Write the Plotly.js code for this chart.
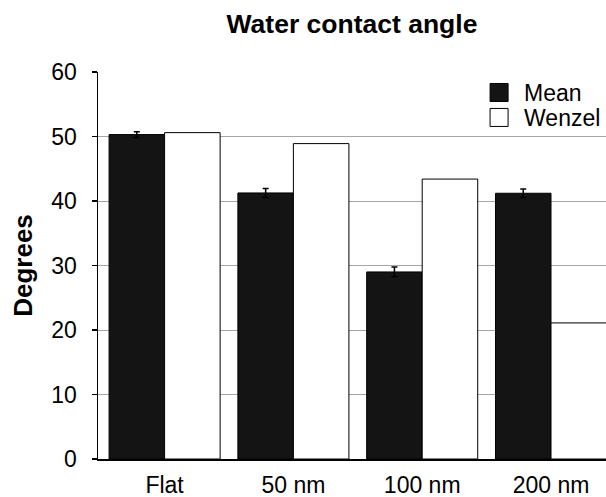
<!DOCTYPE html>
<html><head><meta charset="utf-8">
<script src="https://cdn.plot.ly/plotly-3.0.1.min.js"></script>
<style>html,body{margin:0;padding:0;background:#fff;overflow:hidden;width:606px;height:497px}#chart{display:block}</style>
</head><body><div id="chart" style="width:606px;height:497px"></div><script>
const categories = ['Flat', '50 nm', '100 nm', '200 nm'];
const meanValues = [50.3, 41.25, 29.0, 41.2];
const meanErrors = [0.45, 0.7, 0.75, 0.65];
const wenzelValues = [50.6, 48.9, 43.4, 21.1];
const yTickValues = [0, 10, 20, 30, 40, 50, 60];
const seriesNames = ['Mean', 'Wenzel'];

const FONT = 'Liberation Sans, Arial, sans-serif';

const traces = [
  {
    type: 'bar', name: seriesNames[0], x: categories, y: meanValues, legend: 'legend',
    marker: {color: '#141414', line: {color: '#000', width: 1}},
    error_y: {type: 'data', array: meanErrors, visible: true, color: '#000', thickness: 1.5, width: 3}
  },
  {
    type: 'bar', name: seriesNames[1], x: categories, y: wenzelValues, legend: 'legend2',
    marker: {color: '#ffffff', line: {color: '#000', width: 1}}
  }
];

const legendFont = {family: FONT, size: 23, color: '#000'};
const layout = {
  width: 606, height: 497, autosize: false,
  margin: {l: 98, r: 0, t: 72, b: 37.5, pad: 0, autoexpand: false},
  paper_bgcolor: '#fff', plot_bgcolor: '#fff',
  font: {family: FONT, color: '#000', size: 23},
  barmode: 'group', bargap: 0.138, bargroupgap: 0,
  title: {text: '<b>Water contact angle</b>', font: {family: FONT, size: 26.5, color: '#000'},
          x: 0.5, xref: 'paper', y: 0.952, yref: 'container', yanchor: 'middle'},
  xaxis: {
    type: 'category', range: [-0.517, 3.427], showline: true, linecolor: '#000', linewidth: 1.5,
    ticks: '', showgrid: false, zeroline: false, ticklabelstandoff: 5, automargin: false,
    tickfont: {family: FONT, size: 23, color: '#000'}, fixedrange: true
  },
  yaxis: {
    range: [0, 60], tickvals: yTickValues, ticktext: yTickValues.map(String),
    showline: true, linecolor: '#000', linewidth: 1.5,
    ticks: 'outside', ticklen: 5, tickcolor: '#000', tickwidth: 1.5,
    showgrid: true, gridcolor: '#a6a6a6', gridwidth: 1, zeroline: false,
    ticklabelstandoff: 10,
    tickfont: {family: FONT, size: 23, color: '#000'},
    title: {text: '<b>Degrees</b>', font: {family: FONT, size: 26, color: '#000'}},
    automargin: false, fixedrange: true
  },
  showlegend: true,
  legend: {x: 0.76, y: 1.0025, xanchor: 'left', yanchor: 'top', bgcolor: 'rgba(0,0,0,0)',
           font: legendFont, itemwidth: 30},
  legend2: {x: 0.76, y: 0.938, xanchor: 'left', yanchor: 'top', bgcolor: 'rgba(0,0,0,0)',
           font: legendFont, itemwidth: 30}
};

Plotly.newPlot('chart', traces, layout, {displayModeBar: false, staticPlot: true}).then(function(gd){
  gd.querySelectorAll('.legendpoints path').forEach(function(p){
    p.setAttribute('d', 'M4,9H-14V-9H4Z');
    p.style.strokeWidth = '1px';
  });
  var yt = gd.querySelector('.g-ytitle');
  if (yt) yt.setAttribute('transform', 'translate(-3.5,0)');
});
</script></body></html>
